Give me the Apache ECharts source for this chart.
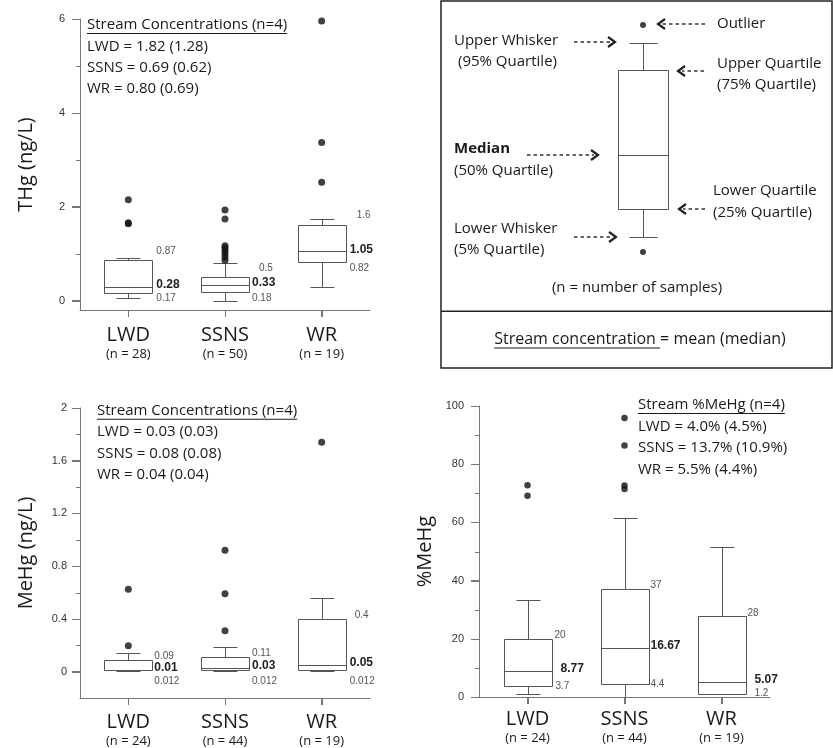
<!DOCTYPE html>
<html>
<head>
<meta charset="utf-8">
<title>Stream Hg boxplots</title>
<script src="https://cdn.jsdelivr.net/npm/echarts@6.0.0/dist/echarts.min.js"></script>
<style>
html,body{margin:0;padding:0;background:#fff;}
#chart{width:833px;height:748px;}
</style>
</head>
<body>
<div id="chart"></div>
<script>
// ================= DATA =================
const categories = ['LWD', 'SSNS', 'WR'];

// THg (ng/L): box = [lower whisker, Q1, median, Q3, upper whisker]
const thgN = [28, 50, 19];
const thgBoxes = [
  [0.05, 0.17, 0.28, 0.87, 0.90],
  [0.00, 0.18, 0.33, 0.50, 0.81],
  [0.29, 0.82, 1.05, 1.62, 1.74]
];
const thgOutliers = [[0, 2.15], [0, 1.66], [0, 1.64], [1, 1.93], [1, 1.74], [1, 1.17], [1, 1.12], [1, 1.06], [1, 1.00], [1, 0.93], [1, 0.86], [2, 5.96], [2, 3.37], [2, 2.52]];
const thgQ3Labels = ['0.87', '0.5', '1.6'];
const thgMedianLabels = ['0.28', '0.33', '1.05'];
const thgQ1Labels = ['0.17', '0.18', '0.82'];
const thgTicks = [0, 2, 4, 6];
const thgMinorTicks = [1, 3, 5];
const thgName = 'THg (ng/L)';
const thgTitle = 'Stream Concentrations (n=4)';
const thgStats = ['LWD = 1.82 (1.28)', 'SSNS = 0.69 (0.62)', 'WR = 0.80 (0.69)'];

// MeHg (ng/L)
const mehgN = [24, 44, 19];
const mehgBoxes = [
  [0.005, 0.012, 0.010, 0.09, 0.14],
  [0.005, 0.012, 0.030, 0.11, 0.19],
  [0.005, 0.012, 0.050, 0.40, 0.56]
];
const mehgOutliers = [[0, 0.625], [0, 0.197], [1, 0.92], [1, 0.59], [1, 0.31], [2, 1.74]];
const mehgQ3Labels = ['0.09', '0.11', '0.4'];
const mehgMedianLabels = ['0.01', '0.03', '0.05'];
const mehgQ1Labels = ['0.012', '0.012', '0.012'];
const mehgTicks = [0, 0.4, 0.8, 1.2, 1.6, 2];
const mehgMinorTicks = [0.2, 0.6, 1.0, 1.4, 1.8];
const mehgName = 'MeHg (ng/L)';
const mehgTitle = 'Stream Concentrations (n=4)';
const mehgStats = ['LWD = 0.03 (0.03)', 'SSNS = 0.08 (0.08)', 'WR = 0.04 (0.04)'];

// %MeHg
const pctN = [24, 44, 19];
const pctBoxes = [
  [0.9, 3.7, 8.77, 20.0, 33.4],
  [0.0, 4.4, 16.67, 37.0, 61.6],
  [1.0, 1.2, 5.07, 27.7, 51.5]
];
const pctOutliers = [[0, 72.8], [0, 69.2], [1, 95.9], [1, 86.4], [1, 72.7], [1, 71.5]];
const pctQ3Labels = ['20', '37', '28'];
const pctMedianLabels = ['8.77', '16.67', '5.07'];
const pctQ1Labels = ['3.7', '4.4', '1.2'];
const pctTicks = [0, 20, 40, 60, 80, 100];
const pctMinorTicks = [10, 30, 50, 70, 90];
const pctName = '%MeHg';
const pctTitle = 'Stream %MeHg (n=4)';
const pctStats = ['LWD = 4.0% (4.5%)', 'SSNS = 13.7% (10.9%)', 'WR = 5.5% (4.4%)'];

// Key (schematic) box, arbitrary units
const keyCategory = ['key'];
const keyBox = [2.3, 5.1, 10.5, 19.0, 21.7];
const keyOutliers = [23.5, 0.8];
const keyNotes = {
  outlier: 'Outlier',
  upperWhisker: ['Upper Whisker', '(95% Quartile)'],
  upperQuartile: ['Upper Quartile', '(75% Quartile)'],
  median: ['Median', '(50% Quartile)'],
  lowerQuartile: ['Lower Quartile', '(25% Quartile)'],
  lowerWhisker: ['Lower Whisker', '(5% Quartile)'],
  samples: '(n = number of samples)',
  footUnderlined: 'Stream concentration ',
  footRest: '= mean (median)'
};

// ================= STYLE / LAYOUT =================
const TXT = '"Open Sans", "DejaVu Sans", sans-serif';
const NUM = '"Liberation Sans", Arial, sans-serif';
const INK = '#1a1a1a';
const AXIS = '#777';
const BOXC = '#555';

function textWidth(text, font) {
  const c = document.createElement('canvas').getContext('2d');
  c.font = font;
  return c.measureText(text).width;
}

const panelSpecs = [
  {
    grid: {left: 80, top: 19, width: 290, height: 291}, min: -0.2, max: 6,
    ticks: thgTicks, minor: thgMinorTicks, name: thgName, n: thgN,
    boxes: thgBoxes, outliers: thgOutliers,
    labels: {q3: thgQ3Labels, med: thgMedianLabels, q1: thgQ1Labels},
    off: {q3: [[28, -9], [34, -9], [35, -9]], med: [[28, -3], [27, -2], [28, -2]], q1: [[28, 6], [27, 6], [28, 6]]},
    labelMargin: 15, catMargin: 14, symbolSize: 7,
    title: thgTitle, stats: thgStats, text: {x: 87, y: 25, gap: 21.4}
  },
  {
    grid: {left: 80, top: 408, width: 290, height: 290}, min: -0.2, max: 2,
    ticks: mehgTicks, minor: mehgMinorTicks, name: mehgName, n: mehgN,
    boxes: mehgBoxes, outliers: mehgOutliers,
    labels: {q3: mehgQ3Labels, med: mehgMedianLabels, q1: mehgQ1Labels},
    off: {q3: [[26, -4], [27, -4], [33, -4]], med: [[26, -3], [27, -2], [28, -2]], q1: [[26, 11], [27, 11], [28, 11]]},
    labelMargin: 13, catMargin: 13, symbolSize: 7,
    title: mehgTitle, stats: mehgStats, text: {x: 97, y: 410.7, gap: 21.4}
  },
  {
    grid: {left: 479, top: 406, width: 291, height: 291}, min: 0, max: 100,
    ticks: pctTicks, minor: pctMinorTicks, name: pctName, n: pctN,
    boxes: pctBoxes, outliers: pctOutliers,
    labels: {q3: pctQ3Labels, med: pctMedianLabels, q1: pctQ1Labels},
    off: {q3: [[27, -4], [26, -4], [26, -3]], med: [[33, -3], [26, -3], [33, -3]], q1: [[28, 0], [26, 0], [33, 0]]},
    labelMargin: 15, catMargin: 11, symbolSize: 6.5,
    title: pctTitle, stats: pctStats, text: {x: 638, y: 405, gap: 21.6}
  }
];

function makeRenderer(boxW, capW, labels, off) {
  return function (params, api) {
    const i = params.dataIndex;
    const cat = api.value(0);
    const v = [1, 2, 3, 4, 5].map(d => api.value(d));
    const cx = api.coord([cat, v[0]])[0];
    const x = Math.round(cx) + 0.5;
    const y = v.map(val => Math.round(api.coord([cat, val])[1]) + 0.5);
    const hw = boxW / 2, hc = capW / 2;
    const ln = (x1, y1, x2, y2) => ({type: 'line', shape: {x1, y1, x2, y2}, style: {stroke: BOXC, lineWidth: 1}});
    const children = [
      ln(x, y[0], x, y[1]),
      ln(x, y[3], x, y[4]),
      ln(x - hc, y[0], x + hc, y[0]),
      ln(x - hc, y[4], x + hc, y[4]),
      {type: 'rect', shape: {x: x - hw, y: Math.min(y[3], y[1]), width: boxW, height: Math.abs(y[1] - y[3])}, style: {stroke: BOXC, fill: '#fff', lineWidth: 1}},
      ln(x - hw, y[2], x + hw, y[2])
    ];
    if (labels) {
      const spec = [
        ['q3', 3, 'normal', 10, '#555'],
        ['med', 2, 'bold', 12, '#222'],
        ['q1', 1, 'normal', 10, '#555']
      ];
      spec.forEach(([k, vi, fw, fs, col]) => {
        const yy = api.coord([cat, v[vi]])[1];
        children.push({
          type: 'text',
          style: {
            text: labels[k][i], x: cx + off[k][i][0], y: yy + off[k][i][1],
            fill: col, font: fw + ' ' + fs + 'px ' + NUM,
            align: 'left', verticalAlign: 'middle'
          }
        });
      });
    }
    return {type: 'group', children};
  };
}

const gridList = [], xAxisList = [], yAxisList = [], seriesList = [], graphicList = [];

panelSpecs.forEach((p, pi) => {
  gridList.push({left: p.grid.left, top: p.grid.top, width: p.grid.width, height: p.grid.height, outerBoundsMode: 'none', containLabel: false});
  xAxisList.push({
    type: 'category', gridIndex: pi, data: categories,
    axisLine: {show: true, onZero: false, lineStyle: {color: AXIS, width: 1}},
    axisTick: {show: true, alignWithLabel: true, length: 7, lineStyle: {color: AXIS}},
    splitLine: {show: false},
    axisLabel: {
      margin: p.catMargin, interval: 0,
      formatter: (val, idx) => '{a|' + val + '}\n{b|(n = ' + p.n[idx] + ')}',
      rich: {
        a: {fontFamily: TXT, fontSize: 20, color: INK, lineHeight: 22},
        b: {fontFamily: TXT, fontSize: 13, color: INK, lineHeight: 17}
      }
    }
  });
  yAxisList.push({
    type: 'value', gridIndex: pi, min: p.min, max: p.max, position: 'left',
    axisLine: {show: true, onZero: false, lineStyle: {color: AXIS, width: 1}},
    axisTick: {show: true, length: 8, customValues: p.ticks, lineStyle: {color: AXIS}},
    axisLabel: {customValues: p.ticks, margin: p.labelMargin, fontFamily: NUM, fontSize: 11, color: '#333'},
    splitLine: {show: false},
    name: p.name, nameLocation: 'middle', nameGap: 44, nameRotate: 90,
    nameTextStyle: {fontFamily: TXT, fontSize: 20, color: INK}
  });
  seriesList.push({
    type: 'custom', xAxisIndex: pi, yAxisIndex: pi,
    data: p.boxes.map((b, i) => [i].concat(b)),
    encode: {x: 0, y: [1, 2, 3, 4, 5]},
    renderItem: makeRenderer(48, 24, p.labels, p.off),
    silent: true, z: 2, clip: false
  });
  seriesList.push({
    type: 'scatter', xAxisIndex: pi, yAxisIndex: pi,
    data: p.outliers, symbolSize: p.symbolSize,
    itemStyle: {color: '#111'}, silent: true, z: 3
  });
  const titleFont = '15px ' + TXT;
  graphicList.push({type: 'text', style: {text: p.title, x: p.text.x, y: p.text.y, font: titleFont, fill: INK, align: 'left', verticalAlign: 'middle'}});
  const w = textWidth(p.title, titleFont);
  graphicList.push({type: 'rect', shape: {x: p.text.x, y: p.text.y + 8, width: w, height: 1}, style: {fill: INK}});
  p.stats.forEach((s, k) => {
    graphicList.push({type: 'text', style: {text: s, x: p.text.x, y: p.text.y + p.text.gap * (k + 1), font: titleFont, fill: INK, align: 'left', verticalAlign: 'middle'}});
  });
});

// ---- key panel ----
gridList.push({left: 593, top: 0, width: 100, height: 260, outerBoundsMode: 'none'});
xAxisList.push({type: 'category', gridIndex: 3, data: keyCategory, show: false});
yAxisList.push({type: 'value', gridIndex: 3, min: 0, max: 26, show: false});
seriesList.push({
  type: 'custom', xAxisIndex: 3, yAxisIndex: 3,
  data: [[0].concat(keyBox)], encode: {x: 0, y: [1, 2, 3, 4, 5]},
  renderItem: makeRenderer(50, 28, null, null), silent: true, z: 2
});
seriesList.push({
  type: 'scatter', xAxisIndex: 3, yAxisIndex: 3,
  data: keyOutliers.map(v => [0, v]), symbolSize: 6,
  itemStyle: {color: '#111'}, silent: true, z: 3
});

// key frame
graphicList.push({type: 'rect', shape: {x: 441, y: 1, width: 391, height: 367}, style: {stroke: '#222', fill: 'transparent', lineWidth: 1.5}});
graphicList.push({type: 'rect', shape: {x: 441, y: 310.5, width: 391, height: 1.5}, style: {fill: '#222'}});

const keyFont = '15px ' + TXT;
function keyText(text, x, y, bold, align) {
  graphicList.push({type: 'text', style: {text, x, y, font: (bold ? 'bold ' : '') + keyFont, fill: INK, align: align || 'left', verticalAlign: 'middle'}});
}
keyText(keyNotes.outlier, 717, 24);
keyText(keyNotes.upperWhisker[0], 454, 40.7);
keyText(keyNotes.upperWhisker[1], 458, 61.7);
keyText(keyNotes.upperQuartile[0], 717, 64);
keyText(keyNotes.upperQuartile[1], 717, 85);
keyText(keyNotes.median[0], 454, 149, true);
keyText(keyNotes.median[1], 454, 171);
keyText(keyNotes.lowerQuartile[0], 713, 190.7);
keyText(keyNotes.lowerQuartile[1], 713, 212.3);
keyText(keyNotes.lowerWhisker[0], 454, 229);
keyText(keyNotes.lowerWhisker[1], 454, 250);
keyText(keyNotes.samples, 637, 287.3, false, 'center');

const footFont = '16px ' + TXT;
const wU = textWidth(keyNotes.footUnderlined, footFont);
const wR = textWidth(keyNotes.footRest, footFont);
const footX = 640 - (wU + wR) / 2;
graphicList.push({type: 'text', style: {text: keyNotes.footUnderlined + keyNotes.footRest, x: footX, y: 339, font: footFont, fill: INK, align: 'left', verticalAlign: 'middle'}});
graphicList.push({type: 'rect', shape: {x: footX, y: 347.5, width: wU, height: 1}, style: {fill: INK}});

// arrows: [tail x, tip x, y]
const arrowSpecs = [[705, 658, 24], [574, 615, 42], [704, 678, 71], [527, 598, 155], [705, 679, 209], [574, 616, 237]];
arrowSpecs.forEach(([x1, x2, y]) => {
  const d = x2 > x1 ? 1 : -1;
  graphicList.push({type: 'line', shape: {x1: x1, y1: y, x2: x2 - d * 4, y2: y}, style: {stroke: '#333', lineWidth: 1.3, lineDash: [3.5, 3]}});
  graphicList.push({type: 'polyline', shape: {points: [[x2 - d * 7, y - 5], [x2, y], [x2 - d * 7, y + 5]]}, style: {stroke: '#222', lineWidth: 2.2, fill: 'transparent'}});
});

const chart = echarts.init(document.getElementById('chart'), null, {renderer: 'canvas'});
chart.setOption({
  animation: false,
  backgroundColor: '#fff',
  grid: gridList,
  xAxis: xAxisList,
  yAxis: yAxisList,
  series: seriesList
});

// Axis frame and ticks, positioned through the charts' own scales (convertToPixel)
panelSpecs.forEach((p, pi) => {
  const finder = {xAxisIndex: pi, yAxisIndex: pi};
  const px = val => chart.convertToPixel(finder, [0, val]);
  const top = Math.round(px(p.max)[1]);
  const bottom = Math.round(px(p.min)[1]);
  const L = p.grid.left;
  const R = p.grid.left + p.grid.width;
  const fill = {fill: AXIS};
  graphicList.push({type: 'rect', shape: {x: L, y: top, width: 1, height: bottom - top + 1}, style: fill, z: 5});
  graphicList.push({type: 'rect', shape: {x: L, y: bottom, width: R - L, height: 1}, style: fill, z: 5});
  p.ticks.forEach(t => {
    const yy = Math.round(px(t)[1]);
    graphicList.push({type: 'rect', shape: {x: L - 8, y: yy, width: 8, height: 1}, style: fill, z: 5});
  });
  p.minor.forEach(t => {
    const yy = Math.round(px(t)[1]);
    graphicList.push({type: 'rect', shape: {x: L - 4, y: yy, width: 4, height: 1}, style: fill, z: 5});
  });
  categories.forEach((c, ci) => {
    const xx = Math.round(chart.convertToPixel(finder, [ci, p.min])[0]);
    graphicList.push({type: 'rect', shape: {x: xx, y: bottom, width: 1, height: 7}, style: fill, z: 5});
  });
});

chart.setOption({graphic: {elements: graphicList}});
</script>
</body>
</html>
